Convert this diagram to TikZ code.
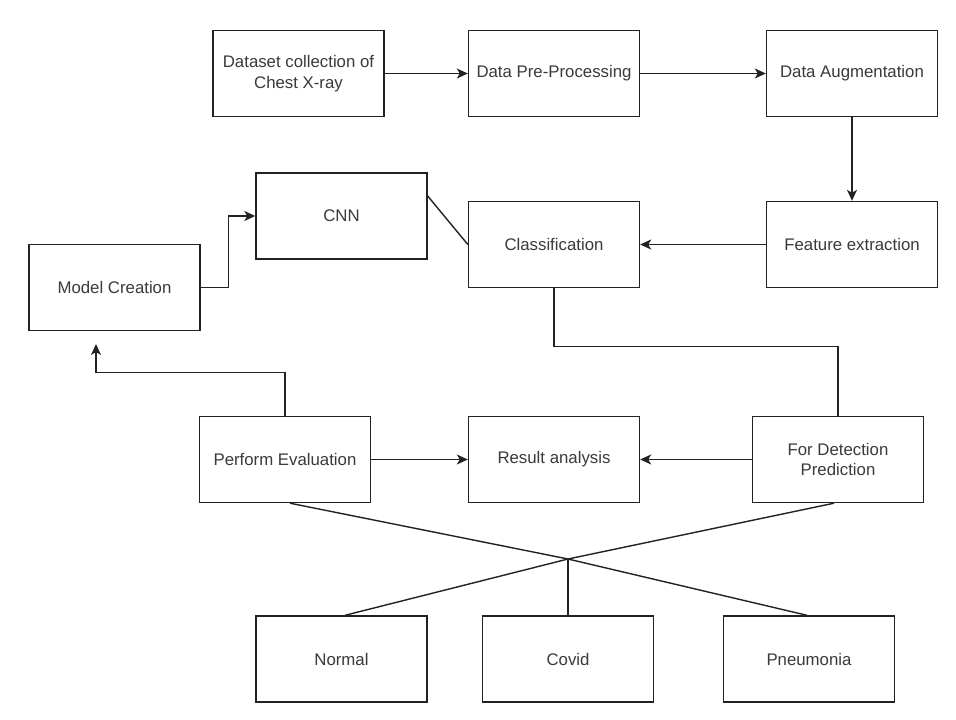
\documentclass[tikz,border=0pt]{standalone}
\usepackage{fontspec}
\setmainfont{Liberation Sans}
\usetikzlibrary{arrows.meta}
\definecolor{txtc}{HTML}{3A3A3A}
\definecolor{linec}{HTML}{222222}
\begin{document}
\begin{tikzpicture}[x=1pt,y=-1pt,
  box/.style={draw=linec,line width=1.4pt,minimum width=171pt,minimum height=86pt,inner sep=2pt,align=center,text=txtc,font=\fontsize{16.8}{20.5}\selectfont},
  conn/.style={draw=linec,line width=1.4pt},
  arr/.style={conn,-{Stealth[length=11pt,width=10pt,inset=3pt]}}]
\useasboundingbox[fill=white] (0,0) rectangle (956,720);
\node[box] (ds) at (298.5,73.5) {Dataset collection of\\Chest X-ray};
\node[box] (pre) at (554,73.5) {Data Pre-Processing};
\node[box] (aug) at (852,73.5) {Data Augmentation};
\node[box] (feat) at (852,244.5) {Feature extraction};
\node[box] (cls) at (554,244.5) {Classification};
\node[box] (cnn) at (341.5,216) {CNN};
\node[box] (model) at (114.5,287.5) {Model Creation};
\node[box] (perf) at (285,459.5) {Perform Evaluation};
\node[box] (res) at (554,459.5) {Result analysis};
\node[box] (det) at (838,459.5) {For Detection\\Prediction};
\node[box] (normal) at (341.5,659) {Normal};
\node[box] (covid) at (568,659) {Covid};
\node[box] (pneu) at (809,659) {Pneumonia};
\coordinate (mtip) at (96,344);
\coordinate (J) at (568,559);
\draw[arr] (ds.east) -- (pre.west);
\draw[arr] (pre.east) -- (aug.west);
\draw[arr] (aug.south) -- (feat.north);
\draw[arr] (feat.west) -- (cls.east);
\draw[arr] (model.east) -- ++(28,0) |- (cnn.west);
\draw[conn] ([yshift=20pt]cnn.east) -- (cls.west);
\draw[conn] (cls.south) -- ++(0,58) -| (det.north);
\draw[arr] (perf.north) -- ++(0,-43.5) -| (mtip);
\draw[arr] (perf.east) -- (res.west);
\draw[arr] (det.west) -- (res.east);
\draw[conn] ([xshift=5pt]perf.south) -- (J) -- ([xshift=-2pt]pneu.north);
\draw[conn] ([xshift=-4pt]det.south) -- (J) -- ([xshift=3.5pt]normal.north);
\draw[conn] (covid.north) -- (J);
\end{tikzpicture}
\end{document}
